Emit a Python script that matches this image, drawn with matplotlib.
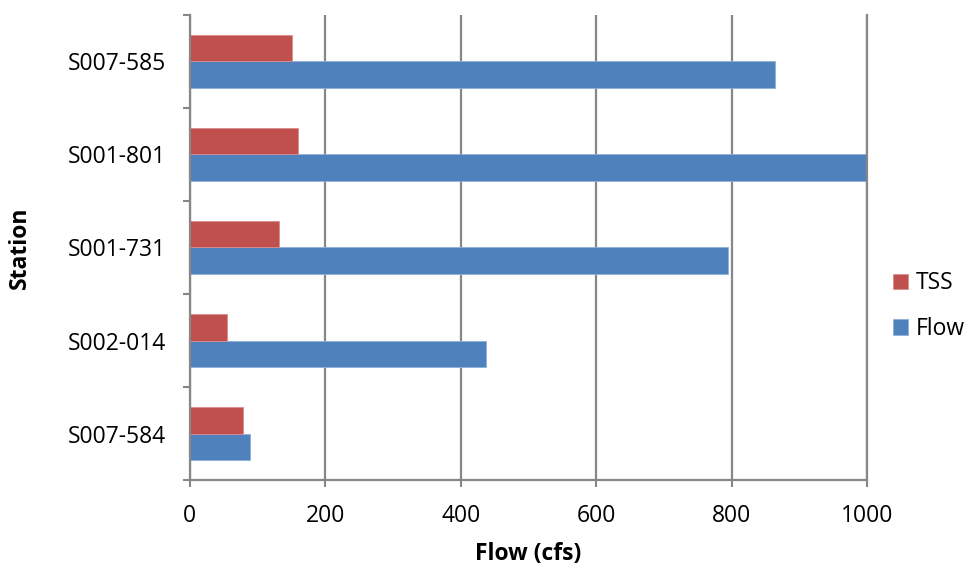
import numpy as np
import matplotlib
matplotlib.use("Agg")
import matplotlib.pyplot as plt

# station data, listed bottom to top as plotted
stations = ['S007-584', 'S002-014', 'S001-731', 'S001-801', 'S007-585']
flow = [89, 438, 794, 1000, 864]
tss = [79, 55, 132, 160, 151]
x_ticks = [0, 200, 400, 600, 800, 1000]

plt.rcParams['font.family'] = ['Open Sans', 'DejaVu Sans']
fs = 16.5
grey = '#878787'

fig = plt.figure(figsize=(9.67, 5.67), dpi=100)
ax = fig.add_axes([0.196, 0.1526, 0.701, 0.8218])

y = np.arange(len(stations))
h = 0.285
ax.barh(y - h / 2, flow, height=h, color='#4F81BD', edgecolor='#8FB0DA',
        linewidth=0.6, label='Flow', zorder=2)
ax.barh(y + h / 2, tss, height=h, color='#C0504D', edgecolor='#D98E8C',
        linewidth=0.6, label='TSS', zorder=2)

ax.set_xlim(0, 1000)
ax.set_ylim(-0.5, len(stations) - 0.5)
ax.set_xticks(x_ticks)
ax.set_xticklabels([str(v) for v in x_ticks], fontsize=fs)
ax.set_yticks(y)
ax.set_yticklabels(stations, fontsize=fs)
ax.set_yticks(np.arange(-0.5, len(stations), 1.0), minor=True)

ax.tick_params(axis='y', which='major', length=0, pad=17)
ax.tick_params(axis='y', which='minor', length=5, width=1.5, color=grey)
ax.tick_params(axis='x', which='major', length=5, width=1.5, color=grey, pad=12)

ax.grid(axis='x', color=grey, linewidth=1.6, zorder=0)
ax.set_axisbelow(True)

ax.spines['top'].set_visible(False)
for side in ['left', 'bottom', 'right']:
    ax.spines[side].set_color(grey)
    ax.spines[side].set_linewidth(1.6)

ax.set_xlabel('Flow (cfs)', fontsize=fs, fontweight='bold', labelpad=10)
ax.set_ylabel('Station', fontsize=fs, fontweight='bold', labelpad=26)

handles, labels = ax.get_legend_handles_labels()
leg = ax.legend(handles[::-1], labels[::-1], loc='center left',
                bbox_to_anchor=(0.914, 0.46), bbox_transform=fig.transFigure,
                frameon=False, fontsize=fs, handlelength=0.66, handleheight=0.66,
                handletextpad=0.35, labelspacing=0.95, borderaxespad=0)

fig.savefig('out.png', dpi=100)
